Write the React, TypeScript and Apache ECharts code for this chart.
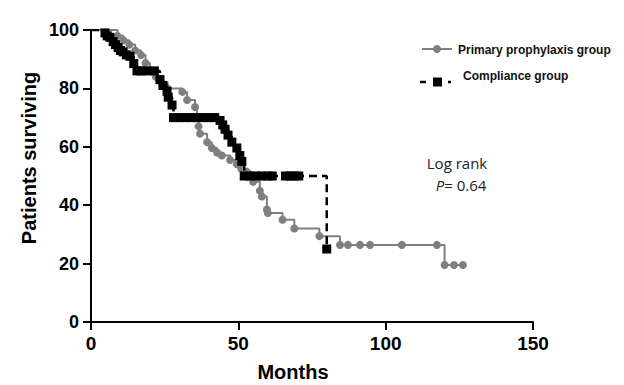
import React, { useEffect, useRef } from "react";
import * as echarts from "echarts";

// Primary prophylaxis group (gray)
const grayMonths = [0, 9, 11, 13, 15, 17, 18.5, 20, 22, 24, 26, 31, 32.6, 35.3, 36, 36.5, 37, 39.4, 41, 42.8, 44.4, 47.2, 49.5, 51, 53.3, 55, 57.3, 58, 59.7, 60, 65, 69, 77.5, 84.5, 87.2, 91.3, 94.7, 105.5, 117.4, 120, 123.2, 126.2];
const graySurv = [100, 98, 96.5, 95, 93, 91.4, 88.7, 86, 84, 82, 80, 78.8, 76, 73.6, 70, 67, 64.5, 61.6, 59.6, 58, 57, 55.5, 54, 52.5, 51, 48, 45, 43, 38.5, 37.3, 35, 32, 29.4, 26.4, 26.4, 26.4, 26.4, 26.4, 26.4, 19.5, 19.5, 19.5];

// Compliance group (black)
const blackMonths = [0, 4.75, 5.5, 6.4, 7.5, 8.3, 9.2, 10, 10.9, 12, 13.2, 14.5, 15.6, 17, 19, 21.5, 23.4, 24.4, 25.8, 26.2, 27.5, 28, 30, 32, 34, 36, 38, 40, 42, 43.8, 44.7, 45.5, 46.5, 47.8, 49.5, 50.5, 51.2, 52, 54, 56, 58, 60, 61.5, 66, 67.5, 69, 70.5, 80];
const blackSurv = [100, 99, 98, 97.5, 96, 95, 94, 93, 92.5, 91.5, 91, 88.5, 86, 86, 86, 86, 83, 81, 79, 77, 74.3, 70, 70, 70, 70, 70, 70, 70, 70, 69, 67.5, 66, 64, 61.6, 59.6, 57, 55, 50, 50, 50, 50, 50, 50, 50, 50, 50, 50, 25];

const xTicks = [0, 50, 100, 150];
const yTicks = [0, 20, 40, 60, 80, 100];

const FONT = "'Liberation Sans', Arial, sans-serif";

function toData(xs: number[], ys: number[]) {
  return xs.map((x, i) => (i === 0 ? { value: [x, ys[i]], symbolSize: 0 } : { value: [x, ys[i]] }));
}

export default function App() {
  const ref = useRef<HTMLDivElement>(null);
  useEffect(() => {
    if (!ref.current) return;
    const chart = echarts.init(ref.current, undefined, { renderer: "svg" });
    chart.setOption({
      animation: false,
      backgroundColor: "#ffffff",
      grid: { left: 91, right: 91, top: 30, bottom: 63 },
      xAxis: {
        type: "value",
        min: xTicks[0],
        max: xTicks[xTicks.length - 1],
        interval: 50,
        splitLine: { show: false },
        axisLine: { show: true, lineStyle: { color: "#000", width: 2 } },
        axisTick: { show: true, length: 8, lineStyle: { color: "#000", width: 2 } },
        axisLabel: { color: "#000", fontSize: 19, fontWeight: "bold", fontFamily: FONT, margin: 12 },
      },
      yAxis: {
        type: "value",
        min: yTicks[0],
        max: yTicks[yTicks.length - 1],
        interval: 20,
        splitLine: { show: false },
        axisLine: { show: true, lineStyle: { color: "#000", width: 2 } },
        axisTick: { show: true, length: 8, lineStyle: { color: "#000", width: 2 } },
        axisLabel: { color: "#000", fontSize: 18, fontWeight: "bold", fontFamily: FONT, margin: 12 },
      },
      series: [
        {
          name: "Primary prophylaxis group",
          type: "line",
          step: "end",
          data: toData(grayMonths, graySurv),
          symbol: "circle",
          symbolSize: 8,
          itemStyle: { color: "#7f7f7f" },
          lineStyle: { color: "#7f7f7f", width: 2 },
          z: 2,
        },
        {
          name: "Compliance group",
          type: "line",
          step: "end",
          data: toData(blackMonths, blackSurv),
          symbol: "rect",
          symbolSize: 9,
          itemStyle: { color: "#000" },
          lineStyle: { color: "#000", width: 2.5, type: [8, 5] },
          z: 3,
        },
      ],
      graphic: [
        { type: "line", shape: { x1: 422, y1: 49, x2: 452, y2: 49 }, style: { stroke: "#7f7f7f", lineWidth: 2 } },
        { type: "circle", shape: { cx: 437, cy: 49, r: 4 }, style: { fill: "#7f7f7f" } },
        {
          type: "text",
          x: 458,
          y: 50,
          style: { text: "Primary prophylaxis group", fill: "#111", font: `bold 12px ${FONT}`, verticalAlign: "middle" },
        },
        { type: "line", shape: { x1: 420, y1: 82, x2: 426, y2: 82 }, style: { stroke: "#000", lineWidth: 2.5 } },
        { type: "rect", shape: { x: 433, y: 77.5, width: 9, height: 9 }, style: { fill: "#000" } },
        { type: "line", shape: { x1: 448, y1: 82, x2: 451, y2: 82 }, style: { stroke: "#000", lineWidth: 2.5 } },
        {
          type: "text",
          x: 463,
          y: 76,
          style: { text: "Compliance group", fill: "#111", font: `bold 12px ${FONT}`, verticalAlign: "middle" },
        },
        {
          type: "text",
          x: 457,
          y: 163,
          style: { text: "Log rank", fill: "#222", font: "15px 'Open Sans', sans-serif", align: "center", verticalAlign: "middle" },
        },
        {
          type: "text",
          x: 461,
          y: 185,
          style: {
            text: "{i|P}= 0.64",
            fill: "#222",
            font: "15px 'Open Sans', sans-serif",
            align: "center",
            verticalAlign: "middle",
            rich: { i: { fontStyle: "italic", fontSize: 15, fontFamily: "'Open Sans', sans-serif", fill: "#222" } },
          },
        },
        {
          type: "text",
          x: 29,
          y: 158,
          rotation: Math.PI / 2,
          style: { text: "Patients surviving", fill: "#000", font: `bold 20px ${FONT}`, align: "center", verticalAlign: "middle" },
        },
        {
          type: "text",
          x: 293,
          y: 372,
          style: { text: "Months", fill: "#000", font: `bold 20px ${FONT}`, align: "center", verticalAlign: "middle" },
        },
      ],
    });
    return () => chart.dispose();
  }, []);
  return <div ref={ref} style={{ position: "fixed", left: 0, top: 0, width: 624, height: 385 }} />;
}
